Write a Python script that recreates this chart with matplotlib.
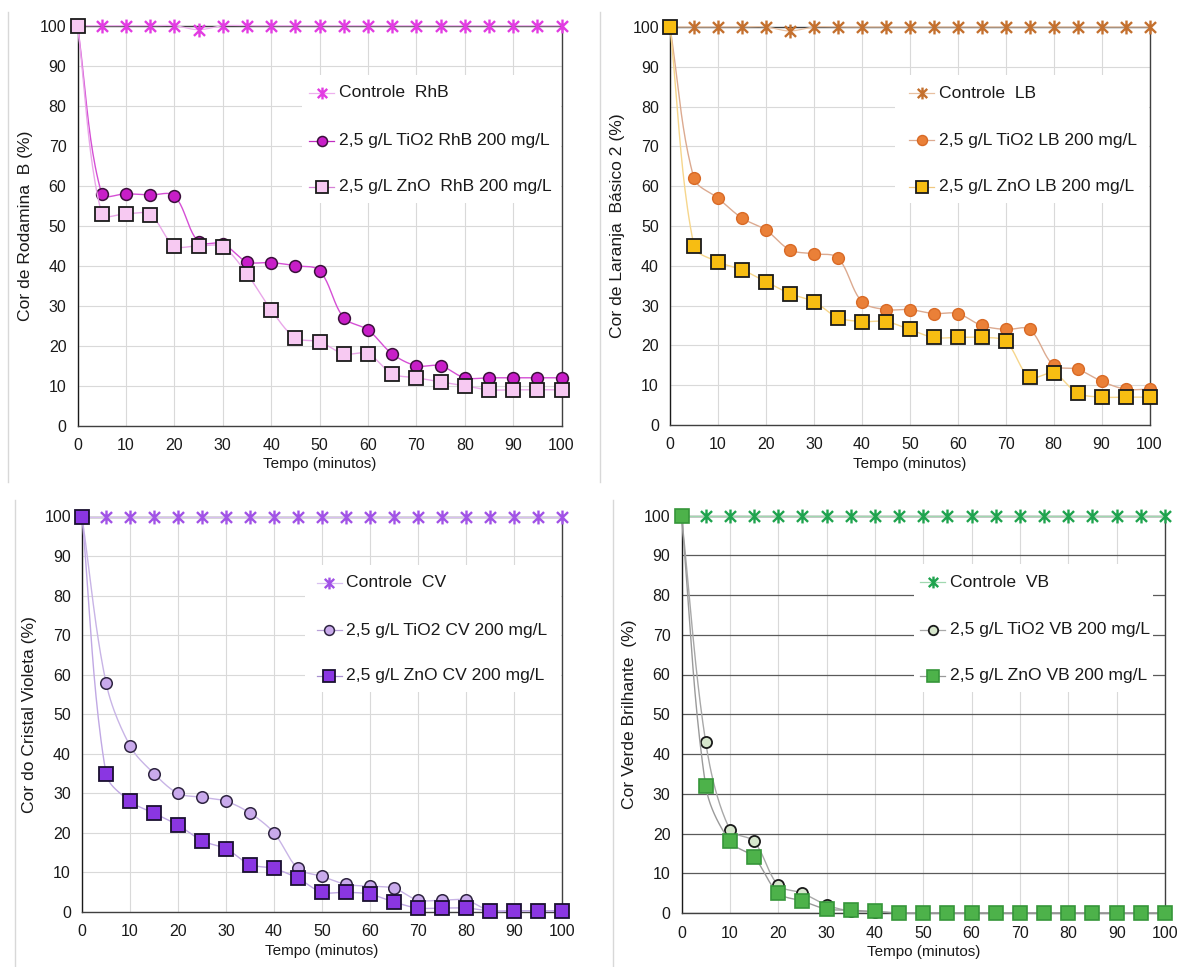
import numpy as np
import matplotlib
matplotlib.use("Agg")
import matplotlib.pyplot as plt
from matplotlib.path import Path
from matplotlib.patches import Rectangle
from matplotlib.lines import Line2D

plt.rcParams['font.family'] = ['Liberation Sans', 'DejaVu Sans']

# ---------------------------------------------------------------- data
tempo = list(range(0, 101, 5))

rhb_controle = [100, 100, 100, 100, 100, 99, 100, 100, 100, 100, 100,
                100, 100, 100, 100, 100, 100, 100, 100, 100, 100]
rhb_tio2 = [100, 58, 58, 57.7, 57.5, 46, 45.5, 41, 40.8, 40, 38.8,
            27, 24, 18, 15, 15, 12, 12, 12, 12, 12]
rhb_zno = [100, 53, 53, 52.8, 45, 45, 44.7, 38, 29, 22, 21,
           18, 18, 13, 12, 11, 10, 9, 9, 9, 9]

lb_controle = [100, 100, 100, 100, 100, 99, 100, 100, 100, 100, 100,
               100, 100, 100, 100, 100, 100, 100, 100, 100, 100]
lb_tio2 = [100, 62, 57, 52, 49, 44, 43, 42, 31, 29, 29,
           28, 28, 25, 24, 24, 15, 14, 11, 9, 9]
lb_zno = [100, 45, 41, 39, 36, 33, 31, 27, 26, 26, 24,
          22, 22, 22, 21, 12, 13, 8, 7, 7, 7]

cv_controle = [100] * 21
cv_tio2 = [100, 58, 42, 35, 30, 29, 28, 25, 20, 11, 9,
           7, 6.5, 6, 3, 3, 3, 0.3, 0.3, 0.3, 0.3]
cv_zno = [100, 35, 28, 25, 22, 18, 16, 12, 11, 8.5, 5,
          5, 4.5, 2.5, 1, 1, 1, 0.3, 0.3, 0.3, 0.3]

vb_controle = [100] * 21
vb_tio2 = [100, 43, 21, 18, 7, 5, 2, 0.5, 0.3, 0, 0,
           0, 0, 0, 0, 0, 0, 0, 0, 0, 0]
vb_zno = [100, 32, 18, 14, 5, 3, 1, 0.7, 0.4, 0, 0,
          0, 0, 0, 0, 0, 0, 0, 0, 0, 0]

ticks = list(range(0, 101, 10))

# ---------------------------------------------------------------- helpers
ASTERISK = Path([(0, -1), (0, 1), (-0.8, -0.78), (0.8, 0.78), (-0.8, 0.78), (0.8, -0.78)],
                [Path.MOVETO, Path.LINETO] * 3)


def smooth(x, y, sx=4.84, sy=4.0, n=24):
    """Bezier smoothing through every point; tangents scaled by chord length
    (computed in screen-like units so the curve does not overshoot much)."""
    p = np.column_stack([np.asarray(x, float) * sx, np.asarray(y, float) * sy])
    m = len(p)
    tang = np.zeros_like(p)
    for i in range(m):
        a = p[max(i - 1, 0)]
        b = p[min(i + 1, m - 1)]
        la = np.linalg.norm(p[i] - a)
        lb = np.linalg.norm(b - p[i])
        tot = la + lb
        tang[i] = (b - a) / tot if tot > 0 else 0
    t = np.linspace(0, 1, n)[:, None]
    out = []
    for i in range(m - 1):
        p0, p1 = p[i], p[i + 1]
        L = np.linalg.norm(p1 - p0)
        c1 = p0 + tang[i] * L / 3.0
        c2 = p1 - tang[i + 1] * L / 3.0
        out.append(((1 - t) ** 3) * p0 + 3 * ((1 - t) ** 2) * t * c1
                   + 3 * (1 - t) * t ** 2 * c2 + t ** 3 * p1)
    b = np.vstack(out)
    return b[:, 0] / sx, b[:, 1] / sy


def series(ax, x, y, line_color, lw, marker, ms, face, edge, mew, z):
    sx, sy = smooth(x, y)
    ax.plot(sx, sy, color=line_color, lw=lw, zorder=z, clip_on=False)
    ax.plot(x, y, ls='none', marker=marker, ms=ms, mfc=face, mec=edge, mew=mew,
            zorder=z + 0.5, clip_on=False)


def style_axes(ax, ylabel, hgrid_color='#d9d9d9'):
    ax.set_xlim(0, 100)
    ax.set_ylim(0, 100)
    ax.set_xticks(ticks)
    ax.set_yticks(ticks)
    ax.tick_params(length=0, labelsize=11.5, colors='#1a1a1a', pad=8)
    ax.tick_params(axis='x', pad=9)
    for s in ax.spines.values():
        s.set_color('#404040')
        s.set_linewidth(1.0)
    ax.spines['left'].set_color('#1a1a1a')
    ax.xaxis.grid(True, color='#d9d9d9', lw=0.8)
    ax.yaxis.grid(True, color=hgrid_color, lw=0.8 if hgrid_color == '#d9d9d9' else 0.9)
    ax.set_axisbelow(True)
    ax.set_xlabel('Tempo (minutos)', fontsize=11, color='#1a1a1a', labelpad=3)
    ax.set_ylabel(ylabel, fontsize=12.6, color='#1a1a1a', labelpad=5)


def key(ax, entries, xm, ys, box):
    """Legend swatches drawn in axes-fraction coordinates on a white panel."""
    bx0, by0, bx1, by1 = box
    ax.add_patch(Rectangle((bx0, by0), bx1 - bx0, by1 - by0, transform=ax.transAxes,
                           facecolor='white', edgecolor='none', zorder=3))
    w = ax.get_position().width * 1181
    dx = 12.5 / w
    for (label, lc, marker, ms, face, edge, mew), y in zip(entries, ys):
        ax.add_line(Line2D([xm - dx, xm + dx], [y, y], transform=ax.transAxes,
                           color=lc, lw=0.9, zorder=4))
        ax.add_line(Line2D([xm], [y], transform=ax.transAxes, ls='none', marker=marker,
                           ms=ms * 0.85, mfc=face, mec=edge, mew=mew, zorder=5))
        ax.text(xm + 17 / w, y, label, transform=ax.transAxes, fontsize=12.6,
                va='center', ha='left', color='#1a1a1a', zorder=6)


fig = plt.figure(figsize=(11.81, 9.67), dpi=100)
W, H = 1181, 967


def axes_px(x0, x100, y100, y0):
    return fig.add_axes([x0 / W, 1 - y0 / H, (x100 - x0) / W, (y0 - y100) / H])


# document cell borders
for xl, ya, yb in [(8, 12, 482), (600, 12, 482), (15, 500, 967), (613, 500, 967)]:
    fig.add_artist(Line2D([xl / W, xl / W], [1 - yb / H, 1 - ya / H], color='#d8d8d8', lw=1.0))

# ---------------------------------------------------------------- Rodamina B
ax1 = axes_px(77.5, 561.5, 25.7, 425.8)
style_axes(ax1, 'Cor de Rodamina  B (%)')
series(ax1, tempo, rhb_controle, '#eeb0ee', 0.9, ASTERISK, 10, '#e23ce2', '#e23ce2', 1.7, 5)
series(ax1, tempo, rhb_tio2, '#d54fd5', 1.0, 'o', 8.5, '#c81ec8', '#3a103a', 1.1, 6)
series(ax1, tempo, rhb_zno, '#e9a6e9', 1.0, 's', 10, '#f7c9f2', '#1a1a1a', 1.3, 7)
key(ax1, [
    ('Controle  RhB', '#eeb0ee', ASTERISK, 10, '#e23ce2', '#e23ce2', 1.7),
    ('2,5 g/L TiO2 RhB 200 mg/L', '#c02cc0', 'o', 8.5, '#c81ec8', '#3a103a', 1.1),
    ('2,5 g/L ZnO  RhB 200 mg/L', '#d680d6', 's', 10, '#f7c9f2', '#1a1a1a', 1.3),
], 0.505, [0.832, 0.712, 0.597], (0.464, 0.557, 0.998, 0.877))

# ---------------------------------------------------------------- Laranja Basico 2
ax2 = axes_px(670, 1149.5, 27, 425)
style_axes(ax2, 'Cor de Laranja  Básico 2 (%)')
series(ax2, tempo, lb_controle, '#e8c0a0', 0.9, ASTERISK, 10, '#c4702e', '#c4702e', 1.7, 5)
series(ax2, tempo, lb_tio2, '#dcaa90', 1.0, 'o', 8.5, '#ea8038', '#d86a26', 1.0, 6)
series(ax2, tempo, lb_zno, '#f6d68c', 1.0, 's', 10, '#f7bd12', '#1a1a1a', 1.3, 7)
key(ax2, [
    ('Controle  LB', '#e8c0a0', ASTERISK, 10, '#c4702e', '#c4702e', 1.7),
    ('2,5 g/L TiO2 LB 200 mg/L', '#dcaa90', 'o', 8.5, '#ea8038', '#d86a26', 1.0),
    ('2,5 g/L ZnO LB 200 mg/L', '#f0c880', 's', 10, '#f7bd12', '#1a1a1a', 1.3),
], 0.5255, [0.834, 0.716, 0.598], (0.469, 0.558, 0.998, 0.879))

# ---------------------------------------------------------------- Cristal Violeta
ax3 = axes_px(82, 562, 516.5, 912)
style_axes(ax3, 'Cor do Cristal Violeta (%)')
series(ax3, tempo, cv_controle, '#d8c0f0', 0.9, ASTERISK, 10, '#a152e6', '#a152e6', 1.7, 5)
series(ax3, tempo, cv_tio2, '#c8b4e6', 1.0, 'o', 8.3, '#c9aaec', '#2e2440', 1.1, 6)
series(ax3, tempo, cv_zno, '#c0a8e4', 1.0, 's', 9.8, '#8a36e2', '#1a1030', 1.3, 7)
key(ax3, [
    ('Controle  CV', '#d8c0f0', ASTERISK, 10, '#a152e6', '#a152e6', 1.7),
    ('2,5 g/L TiO2 CV 200 mg/L', '#b8a0d8', 'o', 8.3, '#c9aaec', '#2e2440', 1.1),
    ('2,5 g/L ZnO CV 200 mg/L', '#a890d0', 's', 9.8, '#8a36e2', '#1a1030', 1.3),
], 0.515, [0.832, 0.712, 0.597], (0.465, 0.557, 0.998, 0.877))

# ---------------------------------------------------------------- Verde Brilhante
ax4 = axes_px(681.5, 1165, 515.5, 913)
style_axes(ax4, 'Cor Verde Brilhante  (%)', hgrid_color='#5a5a5a')
series(ax4, tempo, vb_controle, '#a0d8b0', 0.9, ASTERISK, 10, '#1fa34e', '#1fa34e', 1.7, 5)
series(ax4, tempo, vb_tio2, '#a8a8a8', 1.0, 'o', 8.0, '#d6e6cc', '#1a1a1a', 1.3, 6)
series(ax4, tempo, vb_zno, '#9a9a9a', 1.0, 's', 9.5, '#4db24a', '#36963a', 1.2, 7)
key(ax4, [
    ('Controle  VB', '#a0d8b0', ASTERISK, 10, '#1fa34e', '#1fa34e', 1.7),
    ('2,5 g/L TiO2 VB 200 mg/L', '#a8a8a8', 'o', 8.0, '#d6e6cc', '#1a1a1a', 1.3),
    ('2,5 g/L ZnO VB 200 mg/L', '#9a9a9a', 's', 9.5, '#4db24a', '#36963a', 1.2),
], 0.52, [0.832, 0.712, 0.597], (0.48, 0.557, 0.975, 0.877))

fig.savefig('out.png', dpi=100, facecolor='white')
